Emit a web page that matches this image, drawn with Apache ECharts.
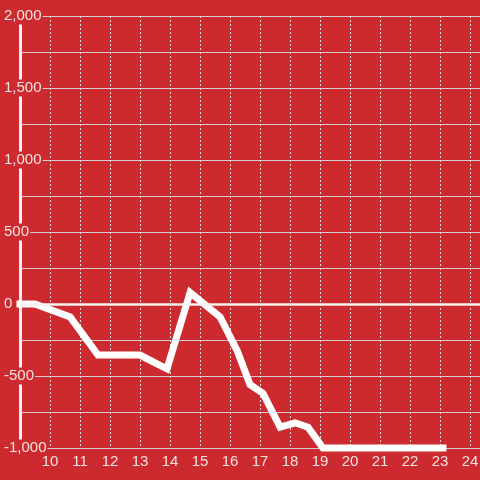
<!DOCTYPE html>
<html>
<head>
<meta charset="utf-8">
<script src="https://cdn.jsdelivr.net/npm/echarts@6/dist/echarts.min.js"></script>
<style>html,body{margin:0;padding:0;background:#cc2a2e;}#c{width:480px;height:480px;}</style>
</head>
<body>
<div id="c"></div>
<script>
var xValues = [9, 9.5, 10.67, 11.6, 13.0, 13.6, 13.9, 14.67, 15.67, 16.25, 16.67, 17.1, 17.67, 18.17, 18.6, 19.1, 23.1];
var yValues = [0, 0, -90, -355, -355, -420, -450, 80, -90, -330, -560, -620, -855, -825, -855, -1000, -1000];
var xTicks = [10, 11, 12, 13, 14, 15, 16, 17, 18, 19, 20, 21, 22, 23, 24];
var yLabelStep = 500;

var data = xValues.map(function (x, i) { return [x, yValues[i]]; });
var txt = '#f3e2e2';
var chart = echarts.init(document.getElementById('c'), null, {renderer: 'canvas'});
chart.setOption({
  backgroundColor: '#cc2a2e',
  animation: false,
  grid: {left: 20, right: 0, top: 16, bottom: 32, containLabel: false, outerBoundsMode: 'none'},
  xAxis: {
    type: 'value', min: 9, max: 9 + 460 / 30, interval: 1,
    axisLine: {show: false}, axisTick: {show: false},
    axisLabel: {
      color: txt, fontFamily: 'Liberation Sans', fontSize: 15, margin: 6,
      showMinLabel: false, showMaxLabel: false,
      formatter: function (v) { return xTicks.indexOf(Math.round(v)) >= 0 && Math.abs(v - Math.round(v)) < 1e-6 ? String(Math.round(v)) : ''; }
    },
    splitLine: {show: true, lineStyle: {color: '#dfe3df', width: 1, type: [2, 2]}}
  },
  yAxis: {
    type: 'value', min: -1000, max: 2000, interval: 250,
    axisLine: {show: true, lineStyle: {color: '#f2f2f2', width: 3}},
    axisTick: {show: false},
    axisLabel: {
      color: txt, fontFamily: 'Liberation Sans', fontSize: 15, margin: 17, align: 'left',
      backgroundColor: '#cc2a2e', padding: [1, 1, 1, 1],
      formatter: function (v) { return v % yLabelStep === 0 ? v.toLocaleString('en-US') : ''; }
    },
    splitLine: {show: true, lineStyle: {color: '#d4cccc', width: 1}}
  },
  series: [{
    type: 'line', data: data, showSymbol: false, symbol: 'none', clip: false,
    lineStyle: {color: '#ffffff', width: 7, cap: 'square', join: 'miter'},
    markLine: {
      silent: true, symbol: 'none', label: {show: false},
      lineStyle: {color: '#f4f0f0', width: 2.5, type: 'solid'},
      data: [{yAxis: 0}]
    },
    z: 3
  }]
});
</script>
</body>
</html>
